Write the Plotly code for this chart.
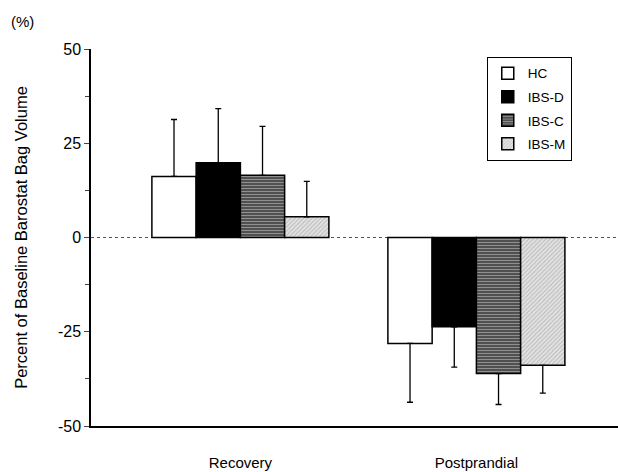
import plotly.graph_objects as go

categories = ["Recovery", "Postprandial"]
groups = ["HC", "IBS-D", "IBS-C", "IBS-M"]
hc = [16.2, -28.1]
ibs_d = [19.8, -23.7]
ibs_c = [16.5, -36.1]
ibs_m = [5.5, -33.9]
hc_err = [15.1, 15.6]
ibs_d_err = [14.4, 10.7]
ibs_c_err = [13.0, 8.2]
ibs_m_err = [9.4, 7.4]
y_ticks = [-50, -25, 0, 25, 50]
y_tick_text = ["-50", "-25", "0", "25", "50"]

values = [hc, ibs_d, ibs_c, ibs_m]
errors = [hc_err, ibs_d_err, ibs_c_err, ibs_m_err]
styles = [
    dict(color="white", pattern=None),
    dict(color="black", pattern=None),
    dict(color="#6a6a6a", pattern=dict(shape="-", fgcolor="#d0d0d0", bgcolor="#505050", size=3, solidity=0.35)),
    dict(color="#d8d8d8", pattern=dict(shape="/", fgcolor="#8a8a8a", bgcolor="#e2e2e2", size=3, solidity=0.3)),
]

fig = go.Figure()
for name, v, e, st in zip(groups, values, errors, styles):
    up = [err if val >= 0 else 0 for val, err in zip(v, e)]
    down = [err if val < 0 else 0 for val, err in zip(v, e)]
    marker = dict(color=st["color"], line=dict(color="black", width=1.5))
    if st["pattern"]:
        marker["pattern"] = st["pattern"]
    fig.add_trace(go.Bar(
        x=categories, y=v, name=name, marker=marker, legendgroup=name,
        error_y=dict(type="data", symmetric=False, array=up, arrayminus=down,
                     color="black", thickness=1.3, width=3),
    ))

fig.add_shape(type="line", xref="paper", yref="y", x0=0, x1=1, y0=0, y1=0,
              line=dict(color="#555555", width=1, dash="dot"), layer="below")

fig.add_annotation(text="(%)", xref="paper", yref="paper", x=-0.13, y=1.10,
                   xanchor="center", showarrow=False, font=dict(size=15, color="black"))

fig.update_layout(
    width=618, height=472,
    margin=dict(l=91, r=0, t=49, b=46, autoexpand=False),
    paper_bgcolor="white", plot_bgcolor="white",
    barmode="group", bargap=0.25, bargroupgap=0,
    font=dict(family="Liberation Sans, Arial, sans-serif", color="black"),
    showlegend=True,
    legend=dict(x=0.751, y=0.979, xanchor="left", yanchor="top",
                bordercolor="black", borderwidth=1, bgcolor="white",
                font=dict(size=13.5), traceorder="grouped", tracegroupgap=3,
                itemwidth=30),
    xaxis=dict(range=[-0.633, 1.6], showline=True, linecolor="black", linewidth=1.5,
               ticks="", tickfont=dict(size=15), ticklabelstandoff=22, automargin=False,
               showgrid=False, zeroline=False),
    yaxis=dict(range=[-50, 50], tickvals=y_ticks, ticktext=y_tick_text, showline=True,
               linecolor="black", automargin=False,
               linewidth=1.5, ticks="outside", ticklen=5, tickwidth=1,
               tickfont=dict(size=16), showgrid=False, zeroline=False,
               minor=dict(dtick=12.5, ticks="outside", ticklen=4, tickwidth=1),
               title=dict(text="Percent of Baseline Barostat Bag Volume",
                          font=dict(size=16.5), standoff=26)),
)

fig.write_html("out.html")
